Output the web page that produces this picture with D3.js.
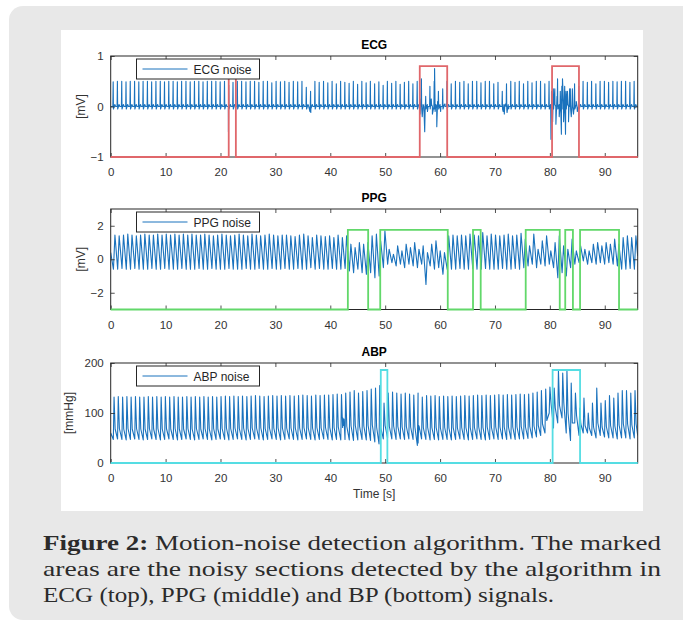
<!DOCTYPE html>
<html>
<head>
<meta charset="utf-8">
<script src="https://cdn.jsdelivr.net/npm/d3@7"></script>
<style>
    body { margin: 0; background: #fff; }
    svg { display: block; }
    .cap { font-family: 'Liberation Serif', 'Times New Roman', serif; font-size: 21px; fill: #2b2b2b; }
</style>
</head>
<body>
<svg id="fig" width="683" height="630"></svg>
<script>
// ---- data ----
const xTicks = [ 0, 10, 20, 30, 40, 50, 60, 70, 80, 90 ];
const ecgYTicks = [ -1, 0, 1 ];
const ppgYTicks = [ -2, 0, 2 ];
const abpYTicks = [ 0, 100, 200 ];

// heart beat times [s], shared by the three signals
const beatTimes = [
    0.45, 1.22, 2.01, 2.79, 3.56, 4.35, 5.12, 5.9, 6.69, 7.46,
    8.24, 9.03, 9.8, 10.58, 11.37, 12.14, 12.92, 13.71, 14.48, 15.26,
    16.05, 16.82, 17.6, 18.39, 19.16, 19.94, 20.73, 21.5, 22.28, 23.07,
    23.85, 24.64, 25.42, 26.21, 26.99, 27.78, 28.56, 29.35, 30.13, 30.92,
    31.7, 32.49, 33.27, 34.06, 34.84, 35.63, 36.41, 37.2, 37.98, 38.77,
    39.55, 40.33, 41.1, 41.88, 42.65, 43.43, 44.2, 44.98, 45.75, 46.53,
    47.3, 48.08, 48.85, 49.63, 50.4, 51.18, 51.95, 52.73, 53.5, 54.28,
    55.05, 55.83, 56.6, 57.38, 58.15, 58.93, 59.7, 60.48, 61.25, 62.03,
    62.8, 63.58, 64.35, 65.13, 65.9, 66.68, 67.45, 68.23, 69.0, 69.78,
    70.55, 71.33, 72.1, 72.88, 73.65, 74.43, 75.2, 75.98, 76.75, 77.53,
    78.3, 79.08, 79.85, 80.63, 81.4, 82.18, 82.95, 83.73, 84.5, 85.28,
    86.05, 86.83, 87.6, 88.38, 89.15, 89.93, 90.7, 91.48, 92.25, 93.03,
    93.8, 94.58, 95.35
];

// ECG R-peak amplitude [mV]
const ecgPeak = [
    .49, .5, .5, .49, .5, .5, .49, .5, .5, .49,
    .5, .5, .49, .5, .5, .49, .5, .5, .49, .5,
    .5, .49, .5, .5, .5, .49, .5, .42, .48, .5,
    .5, .49, .5, .5, .48, .5, .5, .47, .5, .49,
    .5, .48, .5, .49, .5, .38, .3, .5, .48, .5,
    .47, .5, .45, .5, .48, .46, .5, .44, .5, .47,
    .5, .45, .49, .42, .5, .46, .5, .44, .48, .5,
    .45, .5, .55, .2, .4, .5, .3, .35, .5, .45,
    .5, .48, .5, .45, .5, .5, .47, .5, .5, .45,
    .48, .3, .45, .5, .48, .5, .45, .5, .47, .5,
    .5, .45, .5, .35, .55, .4, .3, .35, .45, .4,
    .5, .48, .5, .45, .5, .5, .48, .5, .49, .5,
    .5, .48, .5
];
// ECG motion artefacts [t, mV]
const ecgNoise = [
    [ 21.45, -0.5 ], [ 36.3, -0.1 ], [ 36.45, -0.12 ],
    [ 56.35, -0.15 ], [ 56.5, 0.15 ], [ 56.75, -0.2 ], [ 57.2, -0.5 ], [ 57.3, 0.05 ], [ 57.7, -0.1 ],
    [ 58.4, 0.15 ], [ 58.6, -0.15 ], [ 59.0, 0.75 ], [ 59.1, -0.1 ], [ 59.4, -0.4 ], [ 59.55, 0.1 ],
    [ 60.1, -0.1 ], [ 60.9, 0.05 ],
    [ 71.5, -0.1 ], [ 71.7, -0.15 ], [ 71.9, 0.05 ], [ 72.2, -0.12 ], [ 72.5, -0.05 ],
    [ 80.2, -0.65 ], [ 80.3, 0.3 ], [ 80.5, -0.3 ], [ 80.9, 0.35 ], [ 81.1, -0.35 ], [ 81.3, 0.2 ],
    [ 81.7, -0.2 ], [ 81.9, 0.3 ], [ 82.1, -0.55 ], [ 82.3, 0.55 ], [ 82.5, -0.3 ], [ 82.7, 0.4 ],
    [ 82.85, -0.55 ], [ 83.2, 0.3 ], [ 83.4, -0.3 ], [ 83.6, 0.35 ], [ 83.9, -0.2 ], [ 84.1, 0.35 ],
    [ 84.3, -0.15 ], [ 84.8, 0.1 ], [ 85.0, -0.1 ]
];

// PPG per-beat maximum / minimum [mV]
const ppgHi = [
    1.45, 1.4, 1.45, 1.5, 1.45, 1.4, 1.45, 1.5, 1.45, 1.45,
    1.5, 1.45, 1.5, 1.45, 1.5, 1.45, 1.5, 1.45, 1.5, 1.45,
    1.45, 1.5, 1.45, 1.4, 1.45, 1.5, 1.45, 1.4, 1.45, 1.5,
    1.45, 1.4, 1.5, 1.45, 1.4, 1.45, 1.5, 1.45, 1.4, 1.45,
    1.45, 1.4, 1.35, 1.45, 1.5, 1.4, 1.3, 1.45, 1.4, 1.35,
    1.4, 1.3, 1.45, 1.3, 1.4, 0.9, 0.7, 1.0, 0.9, 1.0,
    1.4, 1.5, 1.1, 1.7, 0.6, 0.3, 0.8, 0.5, 0.9, 0.7,
    1.0, 0.6, 0.8, 0.4, 0.9, 1.1, 0.5, 0.4, 1.4, 1.45,
    1.4, 1.45, 1.4, 1.5, 1.45, 1.4, 1.6, 1.4, 1.5, 1.45,
    1.4, 1.45, 1.5, 1.4, 1.45, 1.55, 1.2, 0.8, 1.5, 0.6,
    1.1, 1.4, 0.5, 1.0, 1.4, 0.8, 0.6, 1.2, 0.5, 0.8,
    0.6, 0.5, 0.9, 1.0, 0.8, 1.0, 0.9, 1.2, 0.9, 1.3,
    1.4, 1.3, 1.4
];
const ppgLo = [
    -.6, -.6, -.55, -.6, -.6, -.55, -.6, -.6, -.6, -.55,
    -.6, -.6, -.55, -.6, -.6, -.6, -.55, -.6, -.6, -.6,
    -.55, -.6, -.6, -.55, -.6, -.6, -.6, -.55, -.6, -.6,
    -.6, -.55, -.6, -.6, -.55, -.6, -.6, -.55, -.6, -.6,
    -.55, -.6, -.6, -.55, -.6, -.6, -.5, -.6, -.55, -.6,
    -.6, -.55, -.6, -.6, -.55, -.7, -.8, -.6, -.8, -.9,
    -.8, -1.1, -1.0, -.5, -.3, -.2, -.4, -.3, -.5, -.3,
    -.4, -.5, -.3, -1.5, -.4, -.6, -.5, -.9, -.6, -.6,
    -.6, -.55, -.6, -.6, -.55, -.6, -.6, -.55, -.6, -.6,
    -.6, -.55, -.6, -.6, -.55, -.6, -.5, -.4, -.3, -.5,
    -.3, -.4, -.3, -.5, -1.1, -.8, -1.0, -.5, -.3, -.2,
    -.1, -.3, -.2, -.3, -.2, -.3, -.2, -.3, -.4, -.6,
    -.6, -.55, -.6
];

// ABP per-beat systolic / dicrotic / diastolic [mmHg]
const abpHi = [
    132, 133, 132, 133, 132, 133, 132, 132, 133, 132,
    133, 132, 133, 132, 133, 132, 132, 133, 132, 133,
    132, 133, 132, 133, 132, 133, 134, 133, 134, 133,
    134, 133, 134, 135, 134, 133, 134, 135, 134, 135,
    134, 135, 134, 135, 136, 135, 134, 136, 135, 136,
    136, 137, 138, 137, 140, 142, 145, 140, 143, 145,
    148, 150, 155, 120, 140, 142, 140, 138, 140, 138,
    136, 140, 132, 135, 134, 135, 133, 134, 133, 134,
    133, 134, 135, 134, 135, 136, 135, 136, 135, 136,
    137, 136, 137, 136, 137, 138, 137, 138, 140, 142,
    145, 148, 152, 150, 185, 180, 185, 160, 140, 110,
    130, 100, 120, 150, 120, 125, 135, 130, 140, 145,
    145, 140, 145
];
const abpMid = [
    68, 69, 68, 69, 68, 69, 68, 68, 69, 68,
    69, 68, 69, 68, 69, 68, 68, 69, 68, 69,
    68, 69, 68, 69, 68, 69, 70, 69, 70, 69,
    70, 69, 70, 70, 70, 69, 70, 70, 70, 70,
    70, 70, 70, 70, 71, 70, 70, 71, 70, 71,
    71, 71, 72, 71, 73, 74, 75, 73, 74, 75,
    76, 72, 70, 75, 73, 74, 73, 72, 73, 72,
    72, 73, 70, 71, 71, 71, 70, 71, 70, 71,
    70, 71, 71, 71, 71, 72, 71, 72, 71, 72,
    72, 72, 72, 72, 72, 73, 72, 73, 74, 75,
    78, 85, 120, 110, 115, 120, 100, 80, 95, 78,
    75, 70, 72, 80, 72, 73, 75, 74, 76, 78,
    78, 76, 78
];
const abpLo = [
    47, 48, 47, 46, 47, 48, 47, 46, 47, 48,
    47, 46, 47, 48, 47, 46, 47, 48, 47, 46,
    47, 48, 47, 46, 47, 48, 47, 46, 47, 48,
    47, 46, 47, 48, 47, 46, 47, 48, 47, 46,
    47, 48, 47, 46, 47, 48, 47, 46, 47, 48,
    47, 46, 47, 46, 47, 46, 45, 46, 47, 46,
    45, 42, 38, 48, 50, 48, 47, 48, 47, 48,
    47, 35, 48, 47, 46, 47, 46, 47, 47, 46,
    47, 48, 47, 46, 47, 48, 47, 46, 47, 48,
    47, 48, 47, 48, 47, 48, 48, 49, 50, 52,
    55, 60, 100, 70, 80, 90, 60, 45, 80, 55,
    60, 60, 55, 50, 55, 52, 50, 50, 48, 50,
    50, 48, 50
];
const abpNoise = [ [ 42.3, 90 ], [ 42.4, 75 ], [ 42.5, 88 ], [ 56.0, 40 ], [ 56.1, 75 ] ];

// detected noisy sections [start, end] in s, and the marker low/high levels
const ecgMask = [ [ 21.5, 22.8 ], [ 56.3, 61.3 ], [ 80.4, 85.3 ] ];
const ppgMask = [ [ 43.2, 46.9 ], [ 49.1, 61.4 ], [ 66.0, 67.4 ], [ 75.6, 81.8 ], [ 82.8, 84.2 ], [ 85.5, 92.6 ] ];
const abpMask = [ [ 49.2, 50.4 ], [ 80.5, 85.5 ] ];
const ecgMaskLevels = [ -1, 0.8 ];
const ppgMaskLevels = [ -3, 1.75 ];
const abpMaskLevels = [ 0, 186 ];

// ---- build point lists from the per-beat values ----
const byTime = ( a, b ) => a[ 0 ] - b[ 0 ];

const ecgPts = [ [ 0, 0 ] ];
beatTimes.forEach( ( t, i ) => {
    ecgPts.push( [ t - 0.06, 0 ], [ t, ecgPeak[ i ] ], [ t + 0.05, -0.05 ], [ t + 0.3, 0.04 ], [ t + 0.45, 0 ] );
} );
ecgNoise.forEach( d => ecgPts.push( d ) );
ecgPts.push( [ 96, 0 ] );
ecgPts.sort( byTime );

const ppgPts = [ [ 0, 0.4 ] ];
beatTimes.forEach( ( t, i ) => {
    ppgPts.push( [ t + 0.05, ppgLo[ i ] ], [ t + 0.32, ppgHi[ i ] ] );
} );
ppgPts.push( [ 96, 0.2 ] );

const abpPts = [ [ 0, 60 ] ];
beatTimes.forEach( ( t, i ) => {
    abpPts.push( [ t + 0.03, abpLo[ i ] ], [ t + 0.16, abpHi[ i ] ], [ t + 0.36, abpMid[ i ] ] );
} );
abpNoise.forEach( d => abpPts.push( d ) );
abpPts.push( [ 96, 55 ] );
abpPts.sort( byTime );

const panels = [
    { title: 'ECG', label: '[mV]', labelX: 85, legend: 'ECG noise', top: 56, bottom: 157, domain: [ -1, 1 ],
      yTicks: ecgYTicks, pts: ecgPts, mask: ecgMask, levels: ecgMaskLevels, maskColor: '#e0676b' },
    { title: 'PPG', label: '[mV]', labelX: 85, legend: 'PPG noise', top: 209, bottom: 309.5, domain: [ -3, 3 ],
      yTicks: ppgYTicks, pts: ppgPts, mask: ppgMask, levels: ppgMaskLevels, maskColor: '#62d86a' },
    { title: 'ABP', label: '[mmHg]', labelX: 73, legend: 'ABP noise', top: 363, bottom: 463, domain: [ 0, 200 ],
      yTicks: abpYTicks, pts: abpPts, mask: abpMask, levels: abpMaskLevels, maskColor: '#55dde3' }
];

// ---- drawing ----
const svg = d3.select( '#fig' );
const font = '"Liberation Sans", Arial, sans-serif';
const axisCol = '#262626';

svg.append( 'rect' ).attr( 'width', 683 ).attr( 'height', 630 ).attr( 'fill', '#fff' );
svg.append( 'rect' ).attr( 'x', 9 ).attr( 'y', 6 ).attr( 'width', 700 ).attr( 'height', 614 )
    .attr( 'rx', 14 ).attr( 'fill', '#e8e8e8' );
svg.append( 'rect' ).attr( 'x', 61 ).attr( 'y', 30 ).attr( 'width', 582 ).attr( 'height', 481 ).attr( 'fill', '#fff' );

const x = d3.scaleLinear().domain( [ 0, 96 ] ).range( [ 110.7, 637.7 ] );

panels.forEach( ( p, k ) => {
    const y = d3.scaleLinear().domain( p.domain ).range( [ p.bottom, p.top ] );
    const g = svg.append( 'g' );

    g.append( 'clipPath' ).attr( 'id', 'clip' + k )
        .append( 'rect' ).attr( 'x', x( 0 ) ).attr( 'y', p.top - 1 )
        .attr( 'width', x( 96 ) - x( 0 ) ).attr( 'height', p.bottom - p.top + 2 );

    const line = d3.line().x( d => x( d[ 0 ] ) ).y( d => y( d[ 1 ] ) );

    g.append( 'path' ).datum( p.pts )
        .attr( 'clip-path', 'url(#clip' + k + ')' )
        .attr( 'd', line ).attr( 'fill', 'none' )
        .attr( 'stroke', '#1a72bd' ).attr( 'stroke-width', 1.1 ).attr( 'stroke-linejoin', 'round' );

    // axes: ticks inward, box around
    const fmt = d3.format( 'd' );
    g.append( 'g' ).attr( 'transform', 'translate(0,' + p.bottom + ')' )
        .call( d3.axisBottom( x ).tickValues( xTicks ).tickFormat( fmt ).tickSizeInner( -4 ).tickSizeOuter( 0 ).tickPadding( 11 ) );
    g.append( 'g' ).attr( 'transform', 'translate(0,' + p.top + ')' )
        .call( d3.axisTop( x ).tickValues( xTicks ).tickFormat( '' ).tickSizeInner( -4 ).tickSizeOuter( 0 ) );
    g.append( 'g' ).attr( 'transform', 'translate(' + x( 0 ) + ',0)' )
        .call( d3.axisLeft( y ).tickValues( p.yTicks ).tickFormat( fmt ).tickSizeInner( -4 ).tickSizeOuter( 0 ).tickPadding( 7 ) );
    g.append( 'g' ).attr( 'transform', 'translate(' + x( 96 ) + ',0)' )
        .call( d3.axisRight( y ).tickValues( p.yTicks ).tickFormat( '' ).tickSizeInner( -4 ).tickSizeOuter( 0 ) );

    g.selectAll( '.domain' ).remove();
    g.selectAll( '.tick line' ).attr( 'stroke', axisCol ).attr( 'stroke-width', 0.8 );
    g.selectAll( '.tick text' ).attr( 'fill', '#333' ).style( 'font-family', font ).style( 'font-size', '11.5px' );

    g.append( 'rect' ).attr( 'x', x( 0 ) ).attr( 'y', p.top )
        .attr( 'width', x( 96 ) - x( 0 ) ).attr( 'height', p.bottom - p.top )
        .attr( 'fill', 'none' ).attr( 'stroke', axisCol ).attr( 'stroke-width', 1 );

    // step marker of detected noisy sections, on top of the box
    const [ lo, hi ] = p.levels;
    const steps = [ [ 0, lo ] ];
    p.mask.forEach( s => steps.push( [ s[ 0 ], lo ], [ s[ 0 ], hi ], [ s[ 1 ], hi ], [ s[ 1 ], lo ] ) );
    steps.push( [ 96, lo ] );
    g.append( 'path' ).datum( steps )
        .attr( 'd', line ).attr( 'fill', 'none' )
        .attr( 'stroke', p.maskColor ).attr( 'stroke-width', 1.8 );

    // title and y label
    g.append( 'text' ).attr( 'x', ( x( 0 ) + x( 96 ) ) / 2 ).attr( 'y', p.top - 7 )
        .attr( 'text-anchor', 'middle' ).style( 'font-family', font ).style( 'font-size', '12px' )
        .style( 'font-weight', 'bold' ).attr( 'fill', '#000' ).text( p.title );
    g.append( 'text' ).attr( 'transform', 'translate(' + p.labelX + ',' + ( p.top + p.bottom ) / 2 + ') rotate(-90)' )
        .attr( 'text-anchor', 'middle' ).style( 'font-family', font ).style( 'font-size', '12px' )
        .attr( 'fill', '#333' ).text( p.label );

    // legend
    const lg = g.append( 'g' ).attr( 'transform', 'translate(136.5,' + ( p.top + 3 ) + ')' );
    lg.append( 'rect' ).attr( 'width', 123 ).attr( 'height', 20 ).attr( 'fill', '#fff' )
        .attr( 'stroke', axisCol ).attr( 'stroke-width', 1 );
    lg.append( 'line' ).attr( 'x1', 6 ).attr( 'x2', 51 ).attr( 'y1', 10 ).attr( 'y2', 10 )
        .attr( 'stroke', '#1a72bd' ).attr( 'stroke-width', 1 );
    lg.append( 'text' ).attr( 'x', 57 ).attr( 'y', 14.5 ).style( 'font-family', font ).style( 'font-size', '12px' )
        .attr( 'fill', axisCol ).text( p.legend );
} );

svg.append( 'text' ).attr( 'x', x( 48 ) ).attr( 'y', 498 ).attr( 'text-anchor', 'middle' )
    .style( 'font-family', font ).style( 'font-size', '12px' ).attr( 'fill', '#333' ).text( 'Time [s]' );

// ---- caption ----
const caption = [
    { y: 550, len: 618, bold: 'Figure 2:', text: ' Motion-noise detection algorithm. The marked' },
    { y: 576, len: 618, bold: '', text: 'areas are the noisy sections detected by the algorithm in' },
    { y: 602, len: 511, bold: '', text: 'ECG (top), PPG (middle) and BP (bottom) signals.' }
];
caption.forEach( c => {
    const t = svg.append( 'text' ).attr( 'class', 'cap' ).attr( 'x', 43 ).attr( 'y', c.y )
        .attr( 'textLength', c.len ).attr( 'lengthAdjust', 'spacingAndGlyphs' );
    if( c.bold ) t.append( 'tspan' ).attr( 'font-weight', 'bold' ).text( c.bold );
    t.append( 'tspan' ).text( c.text );
} );
</script>
</body>
</html>
